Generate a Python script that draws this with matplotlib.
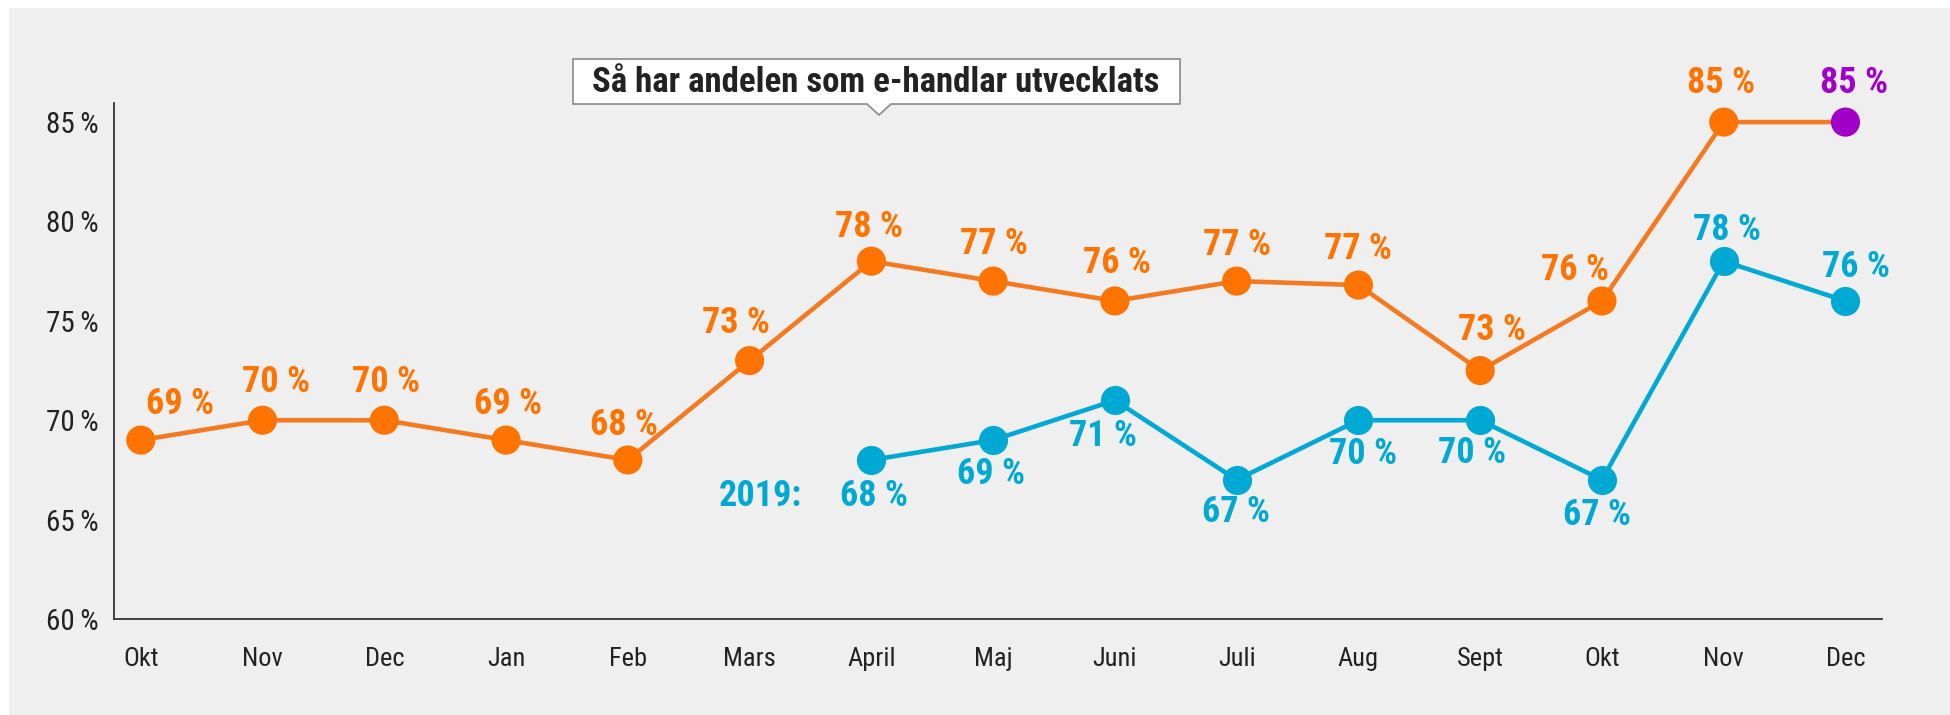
import matplotlib
matplotlib.use("Agg")
import matplotlib.pyplot as plt
from matplotlib import font_manager as fm
from matplotlib.patches import Rectangle, Polygon
from matplotlib.font_manager import FontProperties

# ---------------- data ----------------
months = ["Okt", "Nov", "Dec", "Jan", "Feb", "Mars", "April", "Maj", "Juni",
          "Juli", "Aug", "Sept", "Okt", "Nov", "Dec"]
share_2020 = [69, 70, 70, 69, 68, 73, 78, 77, 76, 77, 76.8, 72.5, 76, 85, 85]
labels_2020 = ["69", "70", "70", "69", "68", "73", "78", "77", "76", "77",
               "77", "73", "76", "85", "85"]
months_2019 = ["April", "Maj", "Juni", "Juli", "Aug", "Sept", "Okt", "Nov", "Dec"]
share_2019 = [68, 69, 71, 67, 70, 70, 67, 78, 76]
labels_2019 = ["68", "69", "71", "67", "70", "70", "67", "78", "76"]
yticks = [60, 65, 70, 75, 80, 85]
title = "Så har andelen som e-handlar utvecklats"
series_2019_label = "2019:"

# ---------------- fonts ----------------
def find_font(patterns_regular, patterns_bold):
    files = [f.fname for f in fm.fontManager.ttflist]
    for pr, pb in zip(patterns_regular, patterns_bold):
        r = [p for p in files if p.split("/")[-1].lower() == pr.lower()]
        b = [p for p in files if p.split("/")[-1].lower() == pb.lower()]
        if r and b:
            return r[0], b[0], pr
    return None, None, None

reg, bold, chosen = find_font(
    ["RobotoCondensed-Regular.ttf", "LiberationSansNarrow-Regular.ttf",
     "DejaVuSansCondensed.ttf", "NotoSans-CondensedMedium.ttf",
     "OpenSans_Condensed-Regular.ttf"],
    ["RobotoCondensed-Bold.ttf", "LiberationSansNarrow-Bold.ttf",
     "DejaVuSansCondensed-Bold.ttf", "NotoSans-CondensedBold.ttf",
     "OpenSans_Condensed-Bold.ttf"])

def fp(size, b=False):
    if reg is None:
        return FontProperties(family="DejaVu Sans", size=size * 0.85,
                              weight="bold" if b else "normal")
    return FontProperties(fname=bold if b else reg, size=size)

# ---------------- style ----------------
ORANGE = "#ff7300"
ORANGE_LINE = "#f47a22"
BLUE = "#00a9d4"
PURPLE = "#a000c8"
TEXT = "#222222"
BG = "#efefef"

W, H = 1950, 715
fig = plt.figure(figsize=(W / 100, H / 100), dpi=100, facecolor="white")
fig.patches.append(Rectangle((9 / W, 0), 1 - 9 / W, 1 - 8 / H,
                             transform=fig.transFigure, facecolor=BG,
                             edgecolor="none", zorder=-5))

ax = fig.add_axes([114 / W, (H - 619) / H, (1882 - 114) / W, (619 - 103) / H])
ax.set_zorder(1)
ax.set_facecolor("none")
ax.set_xlim(-0.22, len(months) - 1 + 0.30)
ax.set_ylim(60, 85.96)
for s in ["top", "right"]:
    ax.spines[s].set_visible(False)
for s in ["left", "bottom"]:
    ax.spines[s].set_color("#333333")
    ax.spines[s].set_linewidth(1.3)

x20 = list(range(len(months)))
x19 = [months.index("April") + i for i in range(len(months_2019))]

ax.set_yticks(yticks)
ax.set_yticklabels([f"{v}\u2009%" for v in yticks])
ax.set_xticks(x20)
ax.set_xticklabels(months)
ax.tick_params(axis="both", length=0, colors=TEXT)
ax.tick_params(axis="y", pad=11)
ax.tick_params(axis="x", pad=20)
for t in ax.get_yticklabels():
    t.set_fontproperties(fp(21))
for t in ax.get_xticklabels():
    t.set_fontproperties(fp(19))

# lines + markers
ax.plot(x20, share_2020, color=ORANGE_LINE, lw=3.3, zorder=3,
        solid_capstyle="round")
ax.plot(x19, share_2019, color=BLUE, lw=3.3, zorder=3, solid_capstyle="round")
cols20 = [ORANGE] * (len(x20) - 1) + [PURPLE]
ax.scatter(x20, share_2020, s=440, c=cols20, zorder=4, linewidths=0)
ax.scatter(x19, share_2019, s=440, c=BLUE, zorder=4, linewidths=0)

# value labels (offsets in pixels, converted to points)
off20 = [(39, 36), (14, 38), (2, 38), (2, 36), (-4, 35), (-14, 38), (-2, 34),
         (1, 37), (2, 38), (0, 36), (0, 36), (12, 41), (-27, 31), (-3, 39),
         (9, 39)]
off19 = [(3, -36), (-2, -34), (-12, -36), (-1, -32), (5, -34), (-8, -33),
         (-5, -35), (3, 31), (11, 34)]
k = 0.72
LBL = 26
for i, (xv, yv, lab) in enumerate(zip(x20, share_2020, labels_2020)):
    dx, dy = off20[i]
    ax.annotate(f"{lab} %", (xv, yv), xytext=(dx * k, dy * k),
                textcoords="offset points", ha="center", va="center",
                color=cols20[i], fontproperties=fp(LBL, True), zorder=5)
for i, (xv, yv, lab) in enumerate(zip(x19, share_2019, labels_2019)):
    dx, dy = off19[i]
    ax.annotate(f"{lab} %", (xv, yv), xytext=(dx * k, dy * k),
                textcoords="offset points", ha="center", va="center",
                color=BLUE, fontproperties=fp(LBL, True), zorder=5)
ax.annotate(series_2019_label, (x19[0], share_2019[0]),
            xytext=(-111 * k, -36 * k), textcoords="offset points",
            ha="center", va="center", color=BLUE,
            fontproperties=fp(LBL, True), zorder=5)

# title callout box
pts = [(573, 59), (1180, 59), (1180, 104), (891, 104), (879, 115),
       (867, 104), (573, 104)]
fig.patches.append(Polygon([(px / W, 1 - py / H) for px, py in pts],
                           closed=True, transform=fig.transFigure,
                           facecolor="white", edgecolor="#8a8a8a", lw=1.2,
                           zorder=5))
fig.text(876 / W, 1 - 82 / H, title, ha="center", va="center", color=TEXT,
         fontproperties=fp(25, True), zorder=6)

fig.savefig("out.png", dpi=100, facecolor="white")
